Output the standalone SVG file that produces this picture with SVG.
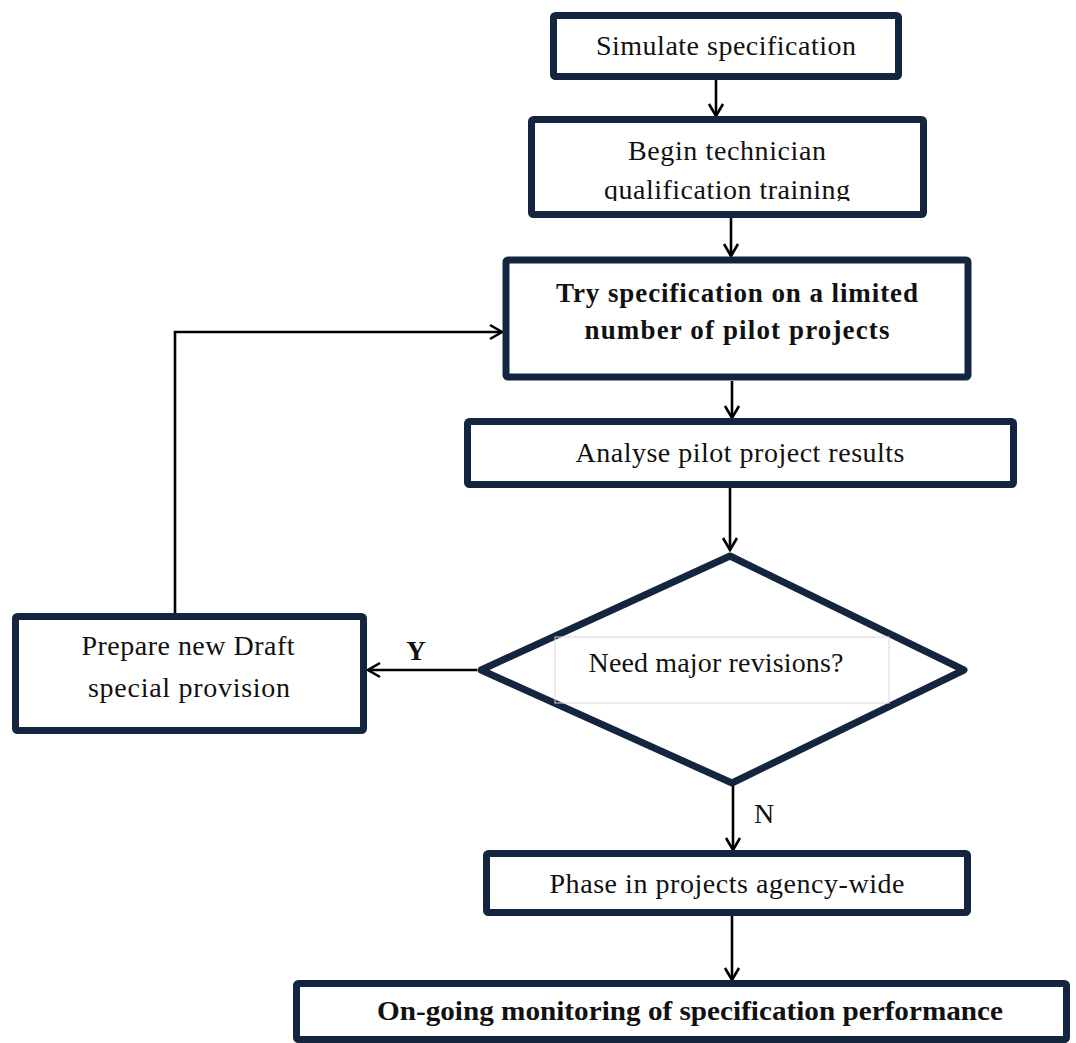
<svg xmlns="http://www.w3.org/2000/svg" width="1076" height="1043" viewBox="0 0 1076 1043">
<style>
.box{fill:#fff;stroke:#14263f;stroke-width:7;stroke-linejoin:round}
.t{font-family:"Liberation Serif","Times New Roman",serif;font-size:28px;fill:#111;text-anchor:middle}
.b{font-weight:bold;font-size:27px}
.c{fill:none;stroke:#000;stroke-width:2.6}
</style>
<defs>
<marker id="ah" markerUnits="userSpaceOnUse" markerWidth="20" markerHeight="20" refX="13" refY="8" orient="auto" viewBox="0 0 20 16">
<path d="M1,1 L13,8 L1,15" fill="none" stroke="#000" stroke-width="2.6"/>
</marker>
<clipPath id="clip2"><rect x="530" y="118" width="396" height="83"/></clipPath>
</defs>
<rect width="1076" height="1043" fill="#fff"/>
<g id="connectors">
<line class="c" x1="716" y1="80" x2="716" y2="116" marker-end="url(#ah)"/>
<line class="c" x1="731" y1="218" x2="731" y2="256" marker-end="url(#ah)"/>
<line class="c" x1="732" y1="381" x2="732" y2="418" marker-end="url(#ah)"/>
<line class="c" x1="730" y1="488" x2="730" y2="550" marker-end="url(#ah)"/>
<line class="c" x1="733" y1="785" x2="733" y2="850" marker-end="url(#ah)"/>
<line class="c" x1="732" y1="916" x2="732" y2="980" marker-end="url(#ah)"/>
<line class="c" x1="477" y1="670" x2="368" y2="670" marker-end="url(#ah)"/>
<polyline class="c" points="175,614 175,332 502,332" marker-end="url(#ah)"/>
<text class="t b" x="416" y="660">Y</text>
<text class="t" x="764" y="823">N</text>
</g>
<g id="n1">
<rect class="box" x="553.5" y="15.5" width="345" height="61" rx="2"/>
<text class="t" x="726" y="55" textLength="260" lengthAdjust="spacing">Simulate specification</text>
</g>
<g id="n2">
<rect class="box" x="531.5" y="119.5" width="392" height="95" rx="2"/>
<text class="t" x="727" y="160" textLength="198" lengthAdjust="spacing">Begin technician</text>
<text class="t" x="727" y="199" textLength="246" lengthAdjust="spacing" clip-path="url(#clip2)">qualification training</text>
</g>
<g id="n3">
<rect class="box" x="506" y="260" width="462" height="117" rx="2" stroke-width="8"/>
<text class="t b" x="737" y="302" textLength="362" lengthAdjust="spacing">Try specification on a limited</text>
<text class="t b" x="737" y="339" textLength="305" lengthAdjust="spacing">number of pilot projects</text>
</g>
<g id="n4">
<rect class="box" x="467.5" y="421.5" width="546" height="63" rx="2"/>
<text class="t" x="740" y="462" textLength="329" lengthAdjust="spacing">Analyse pilot project results</text>
</g>
<g id="n5">
<polygon class="box" points="730,556 964,670 732,783 481,670" stroke-width="8.5"/>
<rect x="555" y="637" width="334" height="66" fill="none" stroke="#d8d8d8" stroke-width="1"/>
<text class="t" x="716" y="672" textLength="255" lengthAdjust="spacing">Need major revisions?</text>
</g>
<g id="n6">
<rect class="box" x="15.5" y="616.5" width="348" height="114" rx="2"/>
<text class="t" x="188" y="655" textLength="213" lengthAdjust="spacing">Prepare new Draft</text>
<text class="t" x="189" y="697" textLength="202" lengthAdjust="spacing">special provision</text>
</g>
<g id="n7">
<rect class="box" x="486.5" y="853.5" width="481" height="59" rx="2"/>
<text class="t" x="727" y="893" textLength="355" lengthAdjust="spacing">Phase in projects agency-wide</text>
</g>
<g id="n8">
<rect class="box" x="296.5" y="983.5" width="770" height="56" rx="2"/>
<text class="t b" x="690" y="1020" textLength="626" lengthAdjust="spacingAndGlyphs">On-going monitoring of specification performance</text>
</g>
</svg>
